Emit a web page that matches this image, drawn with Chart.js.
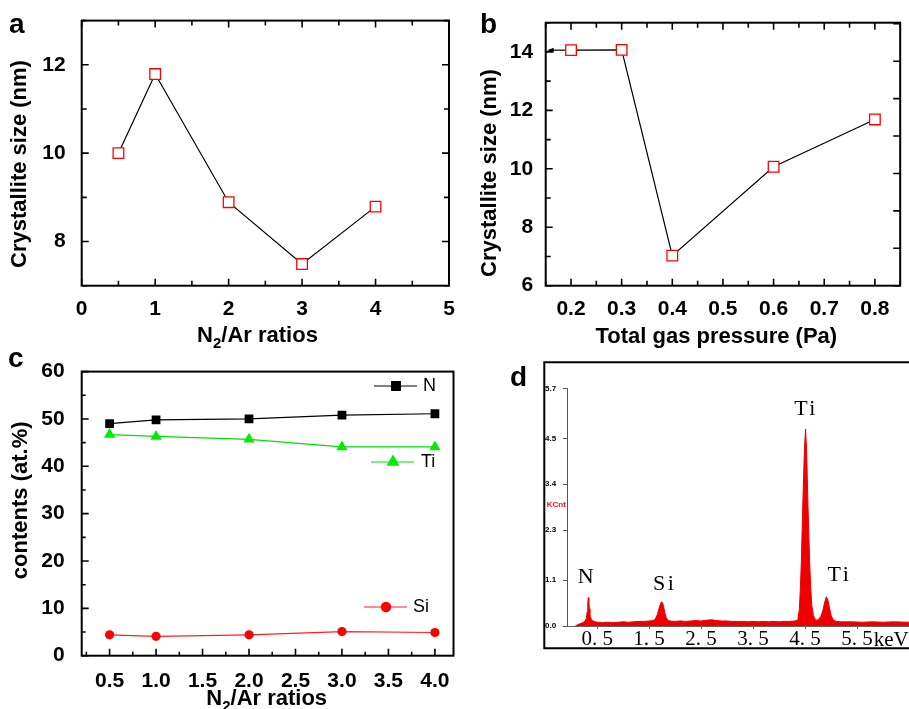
<!DOCTYPE html>
<html><head><meta charset="utf-8">
<script src="https://cdn.jsdelivr.net/npm/chart.js@4/dist/chart.umd.min.js"></script>
<style>
html,body{margin:0;padding:0;background:#fff;}
#wrap{position:relative;width:909px;height:709px;overflow:hidden;background:#fff;}
#wrap canvas{position:absolute;}
</style></head><body>
<div id="wrap">
<canvas id="ca" width="460" height="350" style="left:0;top:0"></canvas>
<canvas id="cb" width="449" height="350" style="left:460px;top:0"></canvas>
<canvas id="cc" width="460" height="359" style="left:0;top:350px"></canvas>
<canvas id="cd" width="409" height="359" style="left:500px;top:350px"></canvas>
</div>
<script>
// ---------------- DATA ----------------
// panel a: crystallite size vs N2/Ar ratio
const ratiosA = [0.5, 1, 2, 3, 4];
const crystalliteA = [10.0, 11.79, 8.89, 7.49, 8.79];
// panel b: crystallite size vs total gas pressure
const pressureB = [0.2, 0.3, 0.4, 0.6, 0.8];
const crystalliteB = [14.06, 14.07, 7.03, 10.07, 11.69];
// panel c: composition vs N2/Ar ratio
const ratiosC = [0.5, 1.0, 2.0, 3.0, 4.0];
const contentN = [49.0, 49.8, 50.0, 50.8, 51.1];
const contentTi = [46.7, 46.3, 45.7, 44.1, 44.1];
const contentSi = [4.4, 4.1, 4.4, 5.1, 4.9];
const seriesNamesC = ['N', 'Ti', 'Si'];
// panel d: EDS spectrum (keV, KCnt)
const energyD = [0.08,0.12,0.16,0.20,0.24,0.27,0.29,0.31,0.32,0.33,0.34,0.35,0.36,0.37,0.39,0.42,0.46,0.52,0.60,0.70,0.80,0.90,1.00,1.10,1.20,1.30,1.40,1.50,1.58,1.62,1.66,1.69,1.72,1.74,1.76,1.78,1.80,1.83,1.86,1.90,2.00,2.10,2.20,2.30,2.40,2.50,2.60,2.70,2.80,2.90,3.00,3.10,3.20,3.30,3.40,3.50,3.60,3.70,3.80,3.90,4.00,4.10,4.20,4.30,4.36,4.39,4.41,4.43,4.45,4.47,4.49,4.51,4.53,4.55,4.57,4.59,4.61,4.63,4.66,4.70,4.73,4.76,4.80,4.84,4.88,4.91,4.94,4.97,5.00,5.04,5.10,5.20,5.40,5.60,5.80,6.00,6.20,6.50];
const countsD = [0.00,0.03,0.05,0.07,0.09,0.12,0.18,0.35,0.55,0.68,0.60,0.42,0.30,0.22,0.15,0.12,0.10,0.09,0.08,0.09,0.08,0.09,0.10,0.09,0.10,0.11,0.11,0.12,0.13,0.17,0.28,0.42,0.54,0.58,0.55,0.46,0.33,0.20,0.14,0.12,0.11,0.12,0.11,0.12,0.13,0.12,0.14,0.15,0.13,0.12,0.12,0.11,0.11,0.11,0.10,0.11,0.10,0.11,0.10,0.11,0.10,0.11,0.11,0.12,0.14,0.40,0.90,1.60,2.60,3.50,4.30,4.72,4.20,3.20,2.30,1.50,0.90,0.50,0.25,0.15,0.14,0.16,0.22,0.36,0.58,0.70,0.62,0.44,0.26,0.15,0.11,0.10,0.10,0.09,0.10,0.09,0.10,0.09];
const peakNames = ['N', 'Si', 'Ti', 'Ti'];
const peakEnergy = [0.33, 1.74, 4.51, 4.93];
// tick labels
const xTicksA = [0, 1, 2, 3, 4, 5];
const yTicksA = [8, 10, 12];
const xTicksB = [0.2, 0.3, 0.4, 0.5, 0.6, 0.7, 0.8];
const yTicksB = [6, 8, 10, 12, 14];
const xTicksC = [0.5, 1.0, 1.5, 2.0, 2.5, 3.0, 3.5, 4.0];
const yTicksC = [0, 10, 20, 30, 40, 50, 60];
const xTicksD = [0.5, 1.5, 2.5, 3.5, 4.5, 5.5];
const xLabelsD = ['0. 5', '1. 5', '2. 5', '3. 5', '4. 5', '5. 5'];
const yTicksD = [0, 1.1, 2.3, 3.4, 4.5, 5.7];

// ---------------- HELPERS ----------------
const SANS = '"Liberation Sans", Arial, sans-serif';
const SERIF = '"Liberation Serif", "Times New Roman", serif';
Chart.defaults.font.family = SANS;
Chart.defaults.color = '#000';

const setTicks = list => s => { s.ticks = list.map(v => ({value: v})); };
const fixW = w => s => { s.width = w; };
const fixH = h => s => { s.height = h; };
const pts = (xs, ys) => xs.map((x, i) => ({x, y: ys[i]}));

function drawText(ctx, it) {
  ctx.save();
  ctx.translate(it.x, it.y);
  if (it.rot) ctx.rotate(it.rot * Math.PI / 180);
  ctx.fillStyle = it.color || '#000';
  ctx.textBaseline = it.baseline || 'alphabetic';
  ctx.textAlign = 'left';
  ctx.letterSpacing = (it.spacing || 0) + 'px';
  const parts = it.parts || [[it.text, it.font, 0]];
  let w = 0;
  for (const p of parts) { ctx.font = p[1]; w += ctx.measureText(p[0]).width; }
  let x = it.align === 'left' ? 0 : (it.align === 'right' ? -w : -w / 2);
  for (const p of parts) { ctx.font = p[1]; ctx.fillText(p[0], x, p[2] || 0); x += ctx.measureText(p[0]).width; }
  ctx.restore();
}

// frame box + inward ticks (drawn after everything, config kept in closure)
function makeFrame(cfgAll) {
  return {
    id: 'frameticks',
    afterDraw(chart) {
      const ctx = chart.ctx;
      const a = chart.chartArea;
      ctx.save();
      ctx.setLineDash([]);
      ctx.strokeStyle = '#000';
      ctx.lineWidth = 1.6;
      const sides = ['bottom', 'top', 'left', 'right'];
      for (let s = 0; s < sides.length; s++) {
        const side = sides[s];
        const cfg = cfgAll[side];
        if (!cfg) continue;
        const sc = chart.scales[cfg.scale];
        const n0 = Math.ceil(sc.min / cfg.step - 1e-6), n1 = Math.floor(sc.max / cfg.step + 1e-6);
        ctx.beginPath();
        for (let n = n0; n <= n1; n++) {
          const v = n * cfg.step;
          const isMaj = Math.abs(v / cfg.major - Math.round(v / cfg.major)) < 1e-6;
          const L = isMaj ? cfgAll.lmaj : cfgAll.lmin;
          const p = sc.getPixelForValue(v);
          if (side === 'bottom') { ctx.moveTo(p, a.bottom); ctx.lineTo(p, a.bottom - L); }
          else if (side === 'top') { ctx.moveTo(p, a.top); ctx.lineTo(p, a.top + L); }
          else if (side === 'left') { ctx.moveTo(a.left, p); ctx.lineTo(a.left + L, p); }
          else { ctx.moveTo(a.right, p); ctx.lineTo(a.right - L, p); }
        }
        ctx.stroke();
      }
      ctx.lineWidth = 2;
      ctx.strokeRect(a.left, a.top, a.right - a.left, a.bottom - a.top);
      ctx.restore();
    }
  };
}

// free text (titles with subscripts, panel letters)
function makeTexts(items) {
  return {id: 'texts', afterDraw(chart) { for (const it of items) drawText(chart.ctx, it); }};
}

const B22 = 'bold 22px ' + SANS;
const B15 = 'bold 15px ' + SANS;
const LETTER = 'bold 28px ' + SANS;
const tickFont = {size: 21, weight: 'bold', family: SANS};

function axisX(min, max, list, h, pad, fmt) {
  return {type: 'linear', min, max, afterBuildTicks: setTicks(list), afterFit: fixH(h),
    grid: {display: false}, border: {display: false},
    ticks: {font: tickFont, color: '#000', padding: pad, autoSkip: false, maxRotation: 0, callback: fmt}};
}
function axisY(min, max, list, w, pad, fmt) {
  return {type: 'linear', min, max, afterBuildTicks: setTicks(list), afterFit: fixW(w),
    grid: {display: false}, border: {display: false},
    ticks: {font: tickFont, color: '#000', padding: pad, autoSkip: false, callback: fmt}};
}
const openSquares = {borderColor: '#000', borderWidth: 1.2, pointStyle: 'rect', pointRadius: 7.5,
  pointBorderColor: '#ff0000', pointBackgroundColor: '#fff', pointBorderWidth: 1.3, tension: 0};
const noPlug = {legend: {display: false}, tooltip: {enabled: false}};

// ---------------- PANEL A ----------------
new Chart(document.getElementById('ca'), {
  type: 'line',
  data: {datasets: [Object.assign({data: pts(ratiosA, crystalliteA)}, openSquares)]},
  options: {
    responsive: false, animation: false,
    layout: {padding: {left: 0, top: 16.7, right: 11, bottom: 0}},
    plugins: noPlug,
    scales: {
      x: axisX(0, 5, xTicksA, 64.3, 3.4, v => String(v)),
      y: axisY(7, 13, yTicksA, 81.7, 8, v => String(v))
    }
  },
  plugins: [
    makeFrame({lmaj: 7, lmin: 5,
      bottom: {scale: 'x', step: 0.5, major: 1}, top: {scale: 'x', step: 0.5, major: 1},
      left: {scale: 'y', step: 1, major: 2}, right: {scale: 'y', step: 1, major: 2}}),
    makeTexts([
      {text: 'a', font: LETTER, x: 9, y: 33, align: 'left'},
      {parts: [['N', B22, 0], ['2', B15, 6], ['/Ar ratios', B22, 0]], x: 257.5, y: 341.7},
      {text: 'Crystallite size (nm)', font: B22, x: 19.7, y: 164, rot: -90, baseline: 'middle'}
    ])
  ]
});

// ---------------- PANEL B ----------------
const arrowPlugin = {
  id: 'arrowB',
  afterDatasetsDraw(chart) {
    const {ctx, chartArea: a} = chart;
    const p = chart.getDatasetMeta(0).data[0];
    ctx.save();
    ctx.strokeStyle = '#000'; ctx.fillStyle = '#000'; ctx.lineWidth = 1.2;
    ctx.beginPath(); ctx.moveTo(p.x - 6, p.y); ctx.lineTo(a.left + 4, p.y); ctx.stroke();
    ctx.beginPath(); ctx.moveTo(a.left + 1.5, p.y); ctx.lineTo(a.left + 8, p.y - 2.5); ctx.lineTo(a.left + 8, p.y + 2.5); ctx.closePath(); ctx.fill();
    ctx.restore();
  }
};
new Chart(document.getElementById('cb'), {
  type: 'line',
  data: {datasets: [Object.assign({data: pts(pressureB, crystalliteB)}, openSquares)]},
  options: {
    responsive: false, animation: false,
    layout: {padding: {left: 0, top: 22.7, right: 6.3, bottom: 0}},
    plugins: noPlug,
    scales: {
      x: axisX(0.15, 0.85, xTicksB, 64.3, 3.4, v => v.toFixed(1)),
      y: axisY(6, 15, yTicksB, 85.7, 4.5, v => String(v)),
      y2: {type: 'linear', position: 'right', display: false, min: 0, max: 7.03}
    }
  },
  plugins: [
    makeFrame({lmaj: 7, lmin: 5,
      bottom: {scale: 'x', step: 0.05, major: 0.1}, top: {scale: 'x', step: 0.05, major: 0.1},
      left: {scale: 'y', step: 1, major: 2}, right: {scale: 'y2', step: 1, major: 1}}),
    makeTexts([
      {text: 'b', font: LETTER, x: 20, y: 33.3, align: 'left'},
      {text: 'Total gas pressure (Pa)', font: B22, x: 256.3, y: 343.3},
      {text: 'Crystallite size (nm)', font: B22, x: 29.7, y: 173, rot: -90, baseline: 'middle'}
    ]),
    arrowPlugin
  ]
});

// ---------------- PANEL C ----------------
const legendC = {
  id: 'legendC',
  afterDraw(chart) {
    const ctx = chart.ctx;
    const ds = chart.data.datasets;
    const rows = [{y: 36, x0: 374, x1: 417, m: 396, t: 423}, {y: 112, x0: 371, x1: 414, m: 393, t: 421}, {y: 257, x0: 364, x1: 407, m: 386, t: 413}];
    ctx.save();
    rows.forEach((r, i) => {
      const d = ds[i];
      ctx.strokeStyle = d.borderColor; ctx.lineWidth = 1.2;
      ctx.beginPath(); ctx.moveTo(r.x0, r.y); ctx.lineTo(r.x1, r.y); ctx.stroke();
      ctx.fillStyle = d.pointBackgroundColor;
      ctx.beginPath();
      if (d.pointStyle === 'rect') { ctx.rect(r.m - 5, r.y - 5, 10, 10); }
      else if (d.pointStyle === 'triangle') { const R = 7.5; ctx.moveTo(r.m, r.y - R); ctx.lineTo(r.m + R * 0.866, r.y + R * 0.5); ctx.lineTo(r.m - R * 0.866, r.y + R * 0.5); ctx.closePath(); }
      else { ctx.arc(r.m, r.y, 5.2, 0, Math.PI * 2); }
      ctx.fill();
      drawText(ctx, {text: seriesNamesC[i], font: '18px ' + SANS, x: r.t, y: r.y, align: 'left', baseline: 'middle'});
    });
    ctx.restore();
  }
};
new Chart(document.getElementById('cc'), {
  type: 'line',
  data: {datasets: [
    {label: seriesNamesC[0], data: pts(ratiosC, contentN), borderColor: '#000', borderWidth: 1.2, pointStyle: 'rect', pointRadius: 6.2, pointBackgroundColor: '#000', pointBorderColor: '#000', pointBorderWidth: 0, tension: 0},
    {label: seriesNamesC[1], data: pts(ratiosC, contentTi), borderColor: '#00e000', borderWidth: 1.2, pointStyle: 'triangle', pointRadius: 6.5, pointBackgroundColor: '#00ee00', pointBorderColor: '#00ee00', pointBorderWidth: 0, tension: 0},
    {label: seriesNamesC[2], data: pts(ratiosC, contentSi), borderColor: '#ff2020', borderWidth: 1.2, pointStyle: 'circle', pointRadius: 4.6, pointBackgroundColor: '#ff0000', pointBorderColor: '#ff0000', pointBorderWidth: 0, tension: 0}
  ]},
  options: {
    responsive: false, animation: false,
    layout: {padding: {left: 0, top: 12.3, right: 5, bottom: 0}},
    plugins: noPlug,
    scales: {
      x: axisX(0.2, 4.2, xTicksC, 53.3, 5, v => v.toFixed(1)),
      y: axisY(0, 60, yTicksC, 81.7, 9, v => String(v))
    }
  },
  plugins: [
    makeFrame({lmaj: 7, lmin: 4,
      bottom: {scale: 'x', step: 0.25, major: 0.5},
      left: {scale: 'y', step: 5, major: 10}}),
    makeTexts([
      {text: 'c', font: LETTER, x: 8, y: 16.7, align: 'left'},
      {parts: [['N', B22, 0], ['2', B15, 6], ['/Ar ratios', B22, 0]], x: 266.7, y: 355},
      {text: 'contents (at.%)', font: B22, x: 21.3, y: 150.3, rot: -90, baseline: 'middle'}
    ]),
    legendC
  ]
});

// ---------------- PANEL D ----------------
const edsPlugin = {
  id: 'eds',
  afterDraw(chart) {
    const {ctx, scales} = chart;
    const W = chart.width;
    ctx.save();
    ctx.strokeStyle = '#000'; ctx.lineWidth = 2;
    ctx.beginPath(); ctx.moveTo(W + 2, 12.3); ctx.lineTo(44.3, 12.3); ctx.lineTo(44.3, 298.3); ctx.lineTo(W + 2, 298.3); ctx.stroke();
    ctx.restore();
    drawText(ctx, {text: 'd', font: LETTER, x: 10, y: 36, align: 'left'});
    const y = scales.y, x = scales.x;
    drawText(ctx, {text: 'KCnt', font: 'bold 8px ' + SANS, color: '#e8102a', x: 46.7, y: (y.getPixelForValue(3.4) + y.getPixelForValue(2.3)) / 2 - 2, align: 'left', baseline: 'middle'});
    const offs = [[-0.05, 0.50], [0.06, 0.42], [0.01, 0.48], [0.23, 0.52]];
    peakNames.forEach((nm, i) => {
      const e = peakEnergy[i];
      const k = Math.max(...countsD.filter((c, j) => Math.abs(energyD[j] - e) < 0.03));
      drawText(ctx, {text: nm, font: '22px ' + SERIF, spacing: nm.length > 1 ? 2.5 : 0,
        x: x.getPixelForValue(e + offs[i][0]), y: y.getPixelForValue(k + offs[i][1]), baseline: 'middle'});
    });
    ctx.save();
    ctx.font = '21px ' + SERIF;
    const lw = ctx.measureText(xLabelsD[xLabelsD.length - 1]).width;
    ctx.restore();
    drawText(ctx, {text: 'keV', font: '21px ' + SERIF, x: x.getPixelForValue(5.5) + lw / 2 + 1, y: 290, align: 'left', baseline: 'middle'});
  }
};
new Chart(document.getElementById('cd'), {
  type: 'line',
  data: {datasets: [{data: pts(energyD, countsD), borderColor: '#ee0000', backgroundColor: '#ee0000', fill: 'origin', borderWidth: 1, pointRadius: 0, tension: 0}]},
  options: {
    responsive: false, animation: false,
    layout: {padding: {left: 45, top: 38.3, right: 0, bottom: 0}},
    plugins: noPlug,
    scales: {
      x: {type: 'linear', min: -0.08, max: 6.5, afterBuildTicks: setTicks(xTicksD), afterFit: fixH(83),
        grid: {display: true, drawOnChartArea: false, drawTicks: true, tickLength: 3, color: '#666'},
        border: {display: true, color: '#666', width: 1},
        ticks: {font: {size: 21, family: SERIF, lineHeight: 1}, color: '#000', padding: 0, autoSkip: false, maxRotation: 0,
          callback: (v, i) => xLabelsD[i]}},
      y: {type: 'linear', min: 0, max: 5.7, afterBuildTicks: setTicks(yTicksD), afterFit: fixW(22),
        grid: {display: true, drawOnChartArea: false, drawTicks: true, tickLength: 4, color: '#555'},
        border: {display: true, color: '#555', width: 1},
        ticks: {font: {size: 8, weight: 'bold', family: SANS}, color: '#000', crossAlign: 'far', padding: 0, autoSkip: false,
          callback: v => v.toFixed(1)}}
    }
  },
  plugins: [edsPlugin]
});
</script>
</body></html>
